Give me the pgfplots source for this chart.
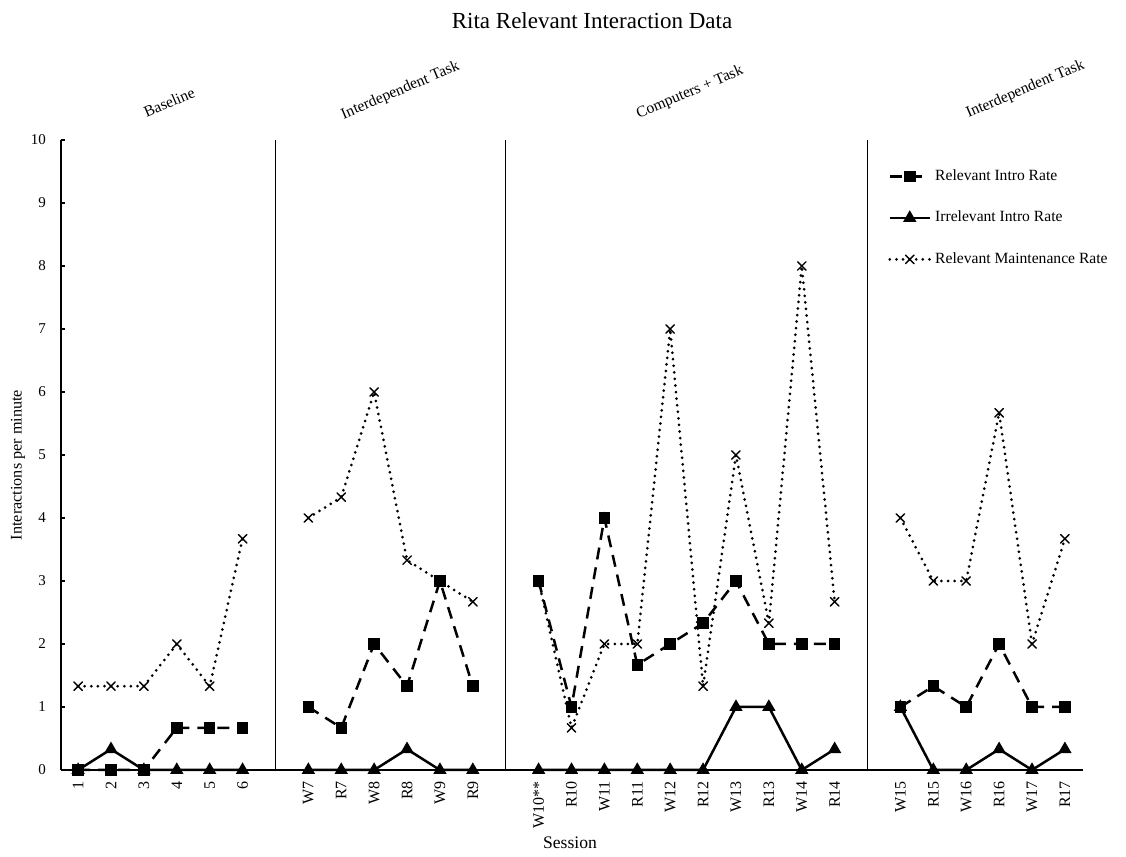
\documentclass[border=0pt]{standalone}
\usepackage{fontspec}
\setmainfont{Liberation Serif}
\usepackage{pgfplots}
\pgfplotsset{compat=1.18}
\usepackage{pgfplotstable}

\pgfplotstableread{
x relint irrint relmaint
0 0 0 1.33
1 0 0.33 1.33
2 0 0 1.33
3 0.67 0 2
4 0.67 0 1.33
5 0.67 0 3.67
6 nan nan nan
7 1 0 4
8 0.67 0 4.33
9 2 0 6
10 1.33 0.33 3.33
11 3 0 3
12 1.33 0 2.67
13 nan nan nan
14 3 0 3
15 1 0 0.67
16 4 0 2
17 1.67 0 2
18 2 0 7
19 2.33 0 1.33
20 3 1 5
21 2 1 2.33
22 2 0 8
23 2 0.33 2.67
24 nan nan nan
25 1 1 4
26 1.33 0 3
27 1 0 3
28 2 0.33 5.67
29 1 0 2
30 1 0.33 3.67
}\datatable

\begin{document}
\begin{tikzpicture}
\path[use as bounding box] (0,0) rectangle (563pt,428.5pt);
\begin{axis}[
  at={(30.5pt,43.5pt)}, anchor=south west,
  scale only axis, width=511pt, height=315pt,
  xmin=-0.52, xmax=30.55, ymin=0, ymax=10,
  axis x line=bottom, axis y line=left,
  axis line style={-, line width=0.75pt},
  clip=false,
  unbounded coords=jump,
  ytick={0,1,...,10},
  ytick pos=left,
  tick align=inside,
  major tick length=2pt,
  tick style={black, line width=0.6pt},
  xtick={0,1,2,3,4,5,7,8,9,10,11,12,14,15,16,17,18,19,20,21,22,23,25,26,27,28,29,30},
  xticklabels={1,2,3,4,5,6,W7,R7,W8,R8,W9,R9,W10**,R10,W11,R11,W12,R12,W13,R13,W14,R14,W15,R15,W16,R16,W17,R17},
  x tick style={draw=none},
  xticklabel style={rotate=90, anchor=east, font=\fontsize{8}{9}\selectfont, xshift=-2pt},
  yticklabel style={font=\fontsize{7.5}{9}\selectfont, xshift=-4pt},
  /pgf/number format/assume math mode=true,
  legend style={draw=none, fill=none, at={(axis cs:24.62,9.6)}, anchor=north west,
    font=\fontsize{7.8}{9}\selectfont, row sep=9.8pt, inner sep=0pt},
  legend cell align=left,
  legend image code/.code={\draw[mark repeat=2,mark phase=2] plot coordinates {(0cm,0cm) (0.35cm,0cm) (0.7cm,0cm)};},
]
\draw[line width=0.75pt] (axis cs:6,0) -- (axis cs:6,10);
\draw[line width=0.75pt] (axis cs:13,0) -- (axis cs:13,10);
\draw[line width=0.75pt] (axis cs:24,0) -- (axis cs:24,10);

\addplot[black, line width=1.25pt, dash pattern=on 6pt off 4pt,
  mark=square*, mark size=2.25pt, mark options={solid}] table[x=x,y=relint] {\datatable};
\addlegendentry{Relevant Intro Rate}
\addplot[black, line width=1.25pt, mark=triangle*, mark size=2.6pt, mark options={solid}]
  table[x=x,y=irrint] {\datatable};
\addlegendentry{Irrelevant Intro Rate}
\addplot[black, line width=1.5pt, line cap=round, dash pattern=on 0pt off 3.3pt,
  mark=x, mark size=3pt, mark options={solid, line width=0.7pt}] table[x=x,y=relmaint] {\datatable};
\addlegendentry{Relevant Maintenance Rate}

\node[rotate=23, font=\fontsize{7.8}{9}\selectfont] at (axis cs:2.77,10.6) {Baseline};
\node[rotate=23, font=\fontsize{7.8}{9}\selectfont] at (axis cs:9.8,10.78) {Interdependent Task};
\node[rotate=23, font=\fontsize{7.8}{9}\selectfont] at (axis cs:18.6,10.75) {Computers + Task};
\node[rotate=23, font=\fontsize{7.8}{9}\selectfont] at (axis cs:28.8,10.8) {Interdependent Task};
\end{axis}
\node[font=\fontsize{11.5}{13}\selectfont] at (296pt,418pt) {Rita Relevant Interaction Data};
\node[rotate=90, font=\fontsize{8.1}{9}\selectfont] at (9pt,196pt) {Interactions per minute};
\node[font=\fontsize{8.8}{10}\selectfont] at (285pt,7pt) {Session};
\end{tikzpicture}
\end{document}
